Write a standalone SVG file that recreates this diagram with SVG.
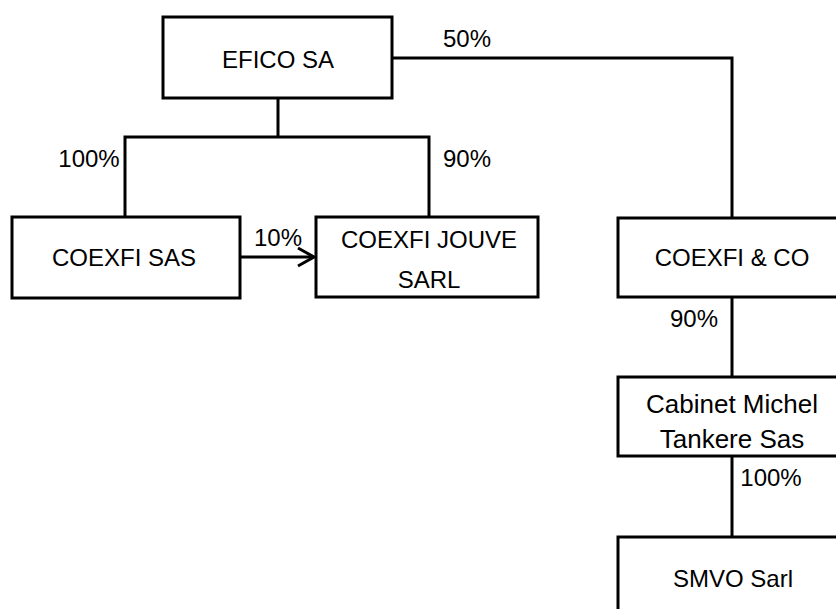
<svg xmlns="http://www.w3.org/2000/svg" width="836" height="609" viewBox="0 0 836 609">
<style>
.box{fill:#fff;stroke:#000;stroke-width:3}
.c{fill:none;stroke:#000;stroke-width:3}
text{font-family:"Liberation Sans",Arial,sans-serif;font-size:24px;fill:#000}
.m{text-anchor:middle}
.l{font-size:26px}
</style>
<rect width="836" height="609" fill="#fff"/>
<g id="connectors">
<polyline class="c" points="392,58 732,58 732,218"/>
<line class="c" x1="278" y1="98" x2="278" y2="137"/>
<polyline class="c" points="125,217 125,137 429,137 429,217"/>
<line class="c" x1="240" y1="257" x2="314" y2="257"/>
<polyline class="c" points="298,248 314,257 298,266"/>
<line class="c" x1="732" y1="297" x2="732" y2="377"/>
<line class="c" x1="732" y1="456" x2="732" y2="537"/>
<text x="467" y="47" class="m">50%</text>
<text x="467" y="167" class="m">90%</text>
<text x="89" y="167" class="m">100%</text>
<text x="278" y="246" class="m">10%</text>
<text x="694" y="327" class="m">90%</text>
<text x="771" y="486" class="m">100%</text>
</g>
<g id="efico">
<rect class="box" x="163" y="17" width="229" height="81"/>
<text x="278" y="68" class="m">EFICO SA</text>
</g>
<g id="coexfi-sas">
<rect class="box" x="12" y="217" width="228" height="81"/>
<text x="124" y="266" class="m">COEXFI SAS</text>
</g>
<g id="coexfi-jouve">
<rect class="box" x="316" y="217" width="222" height="80"/>
<text x="429" y="248" class="m">COEXFI JOUVE</text>
<text x="429" y="288" class="m">SARL</text>
</g>
<g id="coexfi-co">
<rect class="box" x="618" y="218" width="230" height="79"/>
<text x="732" y="266" class="m">COEXFI &amp; CO</text>
</g>
<g id="cabinet">
<rect class="box" x="618" y="377" width="230" height="79"/>
<text x="732" y="413" class="m l">Cabinet Michel</text>
<text x="732" y="448" class="m l">Tankere Sas</text>
</g>
<g id="smvo">
<rect class="box" x="618" y="537" width="230" height="90"/>
<text x="733" y="587" class="m">SMVO Sarl</text>
</g>
</svg>
